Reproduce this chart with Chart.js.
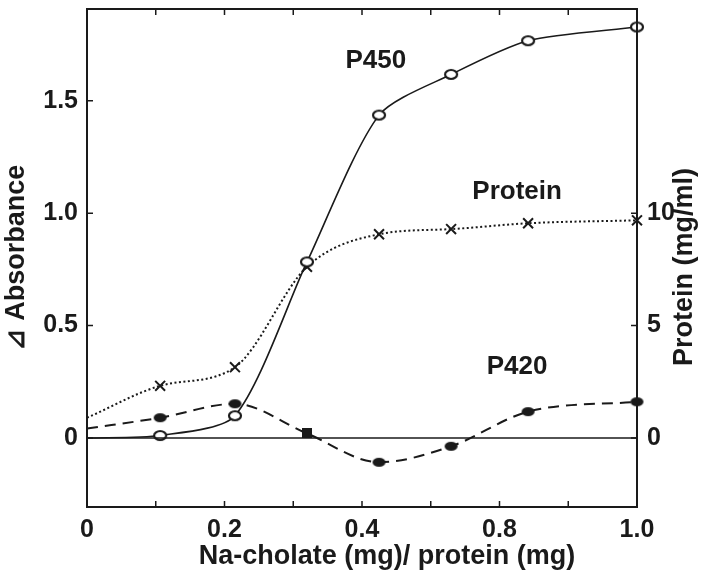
<!DOCTYPE html>
<html>
<head>
<meta charset="utf-8">
<script src="https://cdn.jsdelivr.net/npm/chart.js@4.4.1/dist/chart.umd.min.js"></script>
<style>
  html, body { margin: 0; padding: 0; background: #fff; }
  #wrap { width: 704px; height: 575px; }
</style>
</head>
<body>
<div id="wrap"><canvas id="cholateChart" width="704" height="575"></canvas></div>
<script>
const xValues = [0, 0.133, 0.269, 0.400, 0.531, 0.662, 0.802, 1.0];
// left axis: delta absorbance
const p450Values = [0, 0.011, 0.099, 0.783, 1.436, 1.617, 1.767, 1.828];
const p420Values = [0.042, 0.090, 0.152, 0.020, -0.108, -0.037, 0.117, 0.161];
// right axis: protein (mg/ml)
const proteinValues = [0.90, 2.32, 3.15, 7.61, 9.06, 9.29, 9.55, 9.68];

const xTickValues = [0, 0.125, 0.25, 0.375, 0.5, 0.625, 0.75, 0.875, 1.0];
const xTickLabels = ['0', '', '0.2', '', '0.4', '', '0.8', '', '1.0'];
const leftTicks = [0, 0.5, 1.0, 1.5];
const leftTickLabels = ['0', '0.5', '1.0', '1.5'];
const rightTicks = [0, 5, 10];

const noteTexts = ['P450', 'Protein', 'P420'];
const noteX = [0.525, 0.782, 0.782];
const noteY = [1.676, 1.094, 0.318];

const FONT = '"Liberation Sans", Arial, Helvetica, sans-serif';
const INK = '#1a1a1a';

// small canvases used as point markers (the originals are slightly flattened)
function makeEllipse(w, h, fill, stroke, lw) {
    let c = document.createElement('canvas');
    c.width = w + lw * 2 + 2;
    c.height = h + lw * 2 + 2;
    let ctx = c.getContext('2d');
    ctx.beginPath();
    ctx.ellipse(c.width / 2, c.height / 2, w / 2, h / 2, 0, 0, Math.PI * 2);
    ctx.fillStyle = fill;
    ctx.fill();
    if (lw > 0) {
        ctx.lineWidth = lw;
        ctx.strokeStyle = stroke;
        ctx.stroke();
    }
    return c;
}
function makeSquare(s, fill) {
    let c = document.createElement('canvas');
    c.width = s; c.height = s;
    let ctx = c.getContext('2d');
    ctx.fillStyle = fill;
    ctx.fillRect(0, 0, s, s);
    return c;
}
const openDot = makeEllipse(12, 9, '#fff', INK, 2.2);
const filledDot = makeEllipse(13, 9, INK, INK, 0);
const filledSquare = makeSquare(10, INK);

function toPoints(values) {
    return values.map((v, i) => ({ x: xValues[i], y: v }));
}
// first entry is where the curve starts, it has no marker
const markerSizes = xValues.map((x, i) => i === 0 ? 0 : 6);

// keep the plot box where the original has it
function noEdgePadding(s) {
    s.paddingTop = 0;
    s.paddingBottom = 0;
    s.paddingLeft = 0;
    s.paddingRight = 0;
}

// frame, inward ticks, curve labels, bottom and right axis titles
const framePlugin = {
    id: 'framePlugin',
    afterDatasetsDraw(chart) {
        const ctx = chart.ctx;
        const a = chart.chartArea;
        const sx = chart.scales.x, sy = chart.scales.y, sy1 = chart.scales.y1;
        const tl = 6;
        ctx.save();
        ctx.strokeStyle = INK;
        ctx.lineWidth = 2;
        ctx.strokeRect(a.left, a.top, a.right - a.left, a.bottom - a.top);

        ctx.lineWidth = 1.5;
        ctx.beginPath();
        xTickValues.forEach(v => {
            let px = sx.getPixelForValue(v);
            ctx.moveTo(px, a.bottom); ctx.lineTo(px, a.bottom - tl);
            ctx.moveTo(px, a.top); ctx.lineTo(px, a.top + tl);
        });
        leftTicks.forEach(v => {
            let py = sy.getPixelForValue(v);
            ctx.moveTo(a.left, py); ctx.lineTo(a.left + tl, py);
        });
        rightTicks.forEach(v => {
            let py = sy1.getPixelForValue(v);
            ctx.moveTo(a.right, py); ctx.lineTo(a.right - tl, py);
        });
        ctx.stroke();

        ctx.fillStyle = INK;
        ctx.font = 'bold 26px ' + FONT;
        ctx.textAlign = 'center';
        ctx.textBaseline = 'middle';
        noteTexts.forEach((t, i) => {
            ctx.fillText(t, sx.getPixelForValue(noteX[i]), sy.getPixelForValue(noteY[i]));
        });

        // x title sits a little right of the plot centre in the original
        ctx.font = 'bold 27px ' + FONT;
        ctx.fillText('Na-cholate (mg)/ protein (mg)', (a.left + a.right) / 2 + 25, sx.bottom - 18);

        ctx.translate(sy1.right - 19, (a.top + a.bottom) / 2 + 9);
        ctx.rotate(-Math.PI / 2);
        ctx.fillText('Protein (mg/ml)', 0, 0);
        ctx.restore();
    }
};

const tickFont = { family: FONT, size: 25, weight: 'bold' };

new Chart(document.getElementById('cholateChart').getContext('2d'), {
    type: 'line',
    data: {
        datasets: [
            {
                label: 'baseline',
                data: [{ x: 0, y: 0 }, { x: 1, y: 0 }],
                borderColor: INK,
                borderWidth: 1.5,
                pointRadius: 0,
                yAxisID: 'y'
            },
            {
                label: 'P450',
                data: toPoints(p450Values),
                borderColor: INK,
                borderWidth: 1.6,
                tension: 0.25,
                pointStyle: openDot,
                pointRadius: markerSizes,
                clip: false,
                yAxisID: 'y'
            },
            {
                label: 'Protein',
                data: toPoints(proteinValues),
                borderColor: INK,
                borderWidth: 2,
                borderDash: [2, 2.5],
                cubicInterpolationMode: 'monotone',
                pointStyle: 'crossRot',
                pointRadius: xValues.map((x, i) => i === 0 ? 0 : 7),
                pointBorderWidth: 2,
                pointBorderColor: INK,
                clip: false,
                yAxisID: 'y1'
            },
            {
                label: 'P420',
                data: toPoints(p420Values),
                borderColor: INK,
                borderWidth: 2,
                borderDash: [11, 7],
                cubicInterpolationMode: 'monotone',
                pointStyle: xValues.map((x, i) => i === 3 ? filledSquare : filledDot),
                pointRadius: markerSizes,
                clip: false,
                yAxisID: 'y'
            }
        ]
    },
    options: {
        responsive: false,
        animation: false,
        devicePixelRatio: 1,
        layout: { padding: { top: 5, left: 0, right: 0, bottom: 0 } },
        plugins: {
            legend: { display: false },
            tooltip: { enabled: false }
        },
        scales: {
            x: {
                type: 'linear',
                min: 0,
                max: 1,
                afterBuildTicks: s => { s.ticks = xTickValues.map(v => ({ value: v })); },
                afterFit: s => { s.height = 68; noEdgePadding(s); },
                ticks: {
                    callback: (v, i) => xTickLabels[i],
                    autoSkip: false,
                    maxRotation: 0,
                    padding: 8,
                    color: INK,
                    font: tickFont
                },
                grid: { display: false, drawTicks: false },
                border: { display: false }
            },
            y: {
                position: 'left',
                min: -0.307,
                max: 1.908,
                afterBuildTicks: s => { s.ticks = leftTicks.map(v => ({ value: v })); },
                afterFit: s => { s.width = 87; noEdgePadding(s); },
                ticks: {
                    callback: (v, i) => leftTickLabels[i],
                    padding: 9,
                    color: INK,
                    font: tickFont
                },
                grid: { display: false, drawTicks: false },
                border: { display: false },
                title: {
                    display: true,
                    text: '⊿ Absorbance',
                    color: INK,
                    font: { family: FONT, size: 27, weight: 'bold' },
                    padding: { top: 0, bottom: 0 }
                }
            },
            y1: {
                position: 'right',
                min: -3.07,
                max: 19.08,
                afterBuildTicks: s => { s.ticks = rightTicks.map(v => ({ value: v })); },
                afterFit: s => { s.width = 67; noEdgePadding(s); },
                ticks: {
                    padding: 10,
                    color: INK,
                    font: tickFont
                },
                grid: { display: false, drawTicks: false },
                border: { display: false }
            }
        }
    },
    plugins: [framePlugin]
});
</script>
</body>
</html>
